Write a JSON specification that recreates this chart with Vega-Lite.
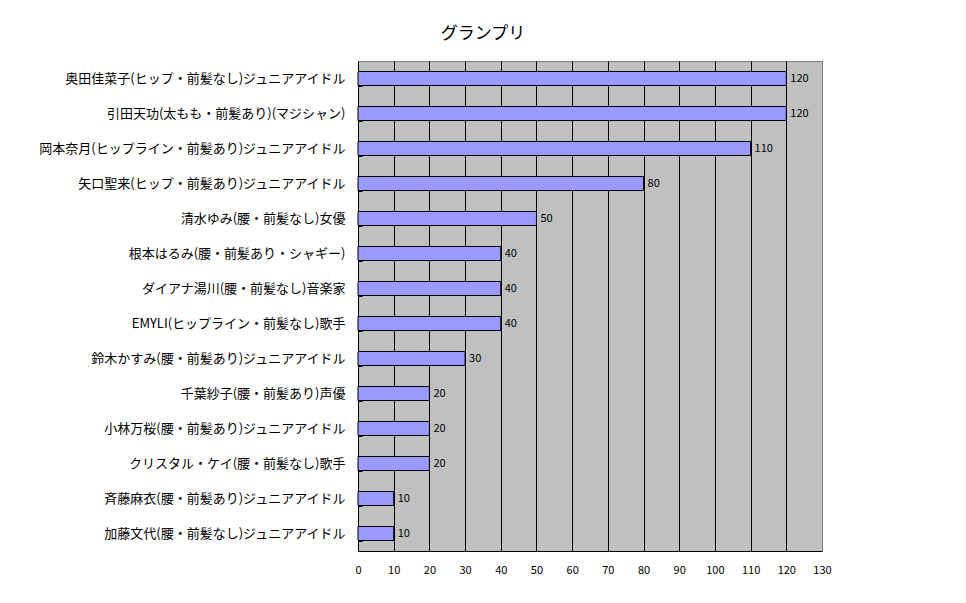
{
  "$schema": "https://vega.github.io/schema/vega-lite/v6.json",
  "width": 464,
  "height": 490,
  "autosize": {"type": "none"},
  "padding": {"left": 358, "top": 61, "right": 144, "bottom": 52},
  "background": "white",
  "title": {
    "text": "グランプリ",
    "fontSize": 17,
    "fontWeight": "normal",
    "font": "Noto Sans CJK JP",
    "color": "black",
    "anchor": "middle",
    "dx": -107,
    "offset": 12
  },
  "data": {
    "values": [
      {"name": "奥田佳菜子(ヒップ・前髪なし)ジュニアアイドル", "value": 120},
      {"name": "引田天功(太もも・前髪あり)(マジシャン)", "value": 120},
      {"name": "岡本奈月(ヒップライン・前髪あり)ジュニアアイドル", "value": 110},
      {"name": "矢口聖来(ヒップ・前髪あり)ジュニアアイドル", "value": 80},
      {"name": "清水ゆみ(腰・前髪なし)女優", "value": 50},
      {"name": "根本はるみ(腰・前髪あり・シャギー)", "value": 40},
      {"name": "ダイアナ湯川(腰・前髪なし)音楽家", "value": 40},
      {"name": "EMYLI(ヒップライン・前髪なし)歌手", "value": 40},
      {"name": "鈴木かすみ(腰・前髪あり)ジュニアアイドル", "value": 30},
      {"name": "千葉紗子(腰・前髪あり)声優", "value": 20},
      {"name": "小林万桜(腰・前髪あり)ジュニアアイドル", "value": 20},
      {"name": "クリスタル・ケイ(腰・前髪なし)歌手", "value": 20},
      {"name": "斉藤麻衣(腰・前髪あり)ジュニアアイドル", "value": 10},
      {"name": "加藤文代(腰・前髪なし)ジュニアアイドル", "value": 10}
    ]
  },
  "encoding": {
    "y": {
      "field": "name",
      "type": "nominal",
      "sort": null,
      "scale": {"paddingInner": 0.6, "paddingOuter": 0.3},
      "axis": {
        "title": null,
        "domainColor": "black",
        "tickColor": "black",
        "tickBand": "extent",
        "tickSize": -4,
        "labelPadding": 17,
        "labelFontSize": 13,
        "labelFont": "Noto Sans CJK JP",
        "labelColor": "black",
        "labelLimit": 400,
        "grid": false
      }
    },
    "x": {
      "field": "value",
      "type": "quantitative",
      "scale": {"domain": [0, 130], "nice": false},
      "axis": {
        "title": null,
        "values": [0, 10, 20, 30, 40, 50, 60, 70, 80, 90, 100, 110, 120, 130],
        "domainColor": "black",
        "ticks": false,
        "labelPadding": 13,
        "labelFontSize": 11,
        "labelFont": "Noto Sans CJK JP",
        "labelColor": "black",
        "grid": true,
        "gridColor": {"condition": {"test": "datum.value >= 130", "value": "#808080"}, "value": "black"},
        "gridOpacity": 1,
        "labelFlush": false
      }
    }
  },
  "layer": [
    {
      "mark": {"type": "bar", "color": "#9999FF", "stroke": "black", "strokeWidth": 1}
    },
    {
      "mark": {"type": "text", "align": "left", "baseline": "middle", "dx": 4, "fontSize": 11, "font": "Noto Sans CJK JP", "color": "black"},
      "encoding": {"text": {"field": "value", "type": "quantitative"}}
    }
  ],
  "config": {
    "view": {"fill": "#C0C0C0", "stroke": "#808080", "strokeWidth": 1}
  }
}
